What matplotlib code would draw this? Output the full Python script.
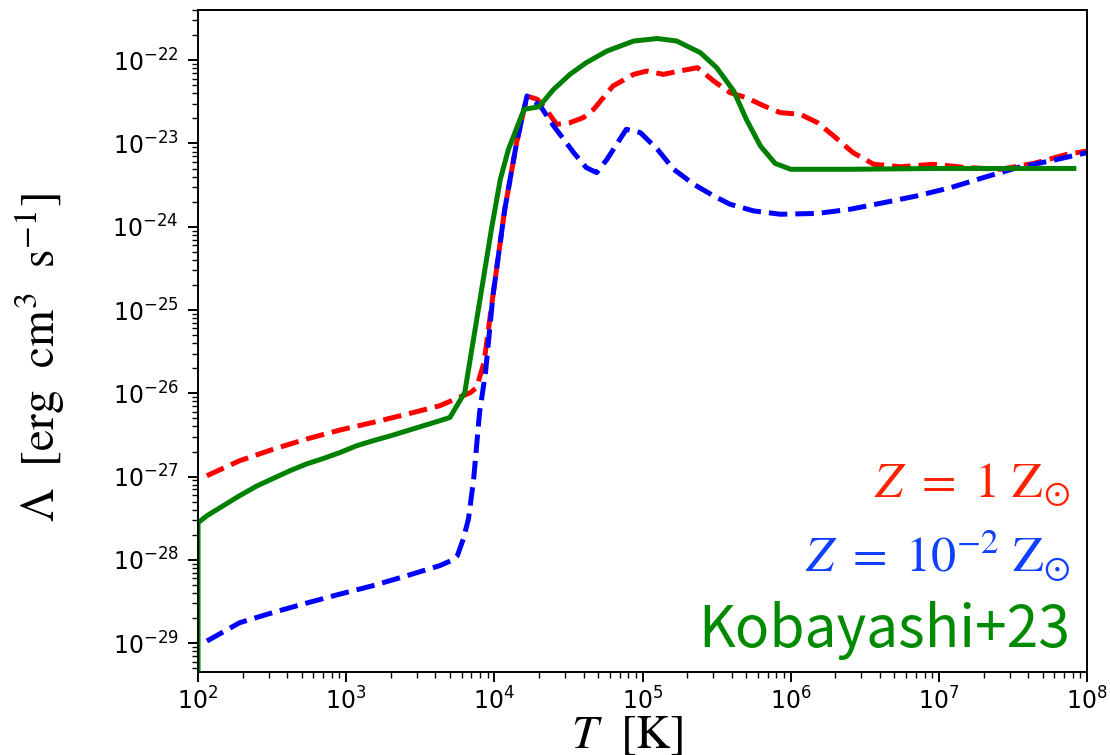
import numpy as np
import matplotlib
matplotlib.use('Agg')
import matplotlib.pyplot as plt

# values (log10 T [K], log10 Lambda [erg cm^3 s^-1])
logT_solar = [2.06, 2.28, 2.51, 2.73, 2.96, 3.18, 3.41, 3.63, 3.84, 3.88, 3.93, 3.99, 4.07,
              4.15, 4.22, 4.29, 4.36, 4.42, 4.51, 4.60, 4.67, 4.80, 4.94, 5.03, 5.14, 5.25,
              5.37, 5.48, 5.59, 5.70, 5.82, 5.93, 6.065, 6.18, 6.29, 6.42, 6.56, 6.74, 6.96,
              7.19, 7.415, 7.64, 7.865, 8.0]
logL_solar = [-26.99, -26.81, -26.67, -26.55, -26.44, -26.35, -26.25, -26.15, -25.99, -25.93,
              -25.63, -24.83, -23.79, -22.99, -22.43, -22.47, -22.62, -22.77, -22.75, -22.69,
              -22.59, -22.31, -22.17, -22.13, -22.17, -22.13, -22.09, -22.25, -22.39, -22.45,
              -22.55, -22.63, -22.65, -22.75, -22.91, -23.11, -23.25, -23.28, -23.25, -23.29,
              -23.31, -23.24, -23.13, -23.09]

logT_low = [2.06, 2.28, 2.51, 2.73, 2.96, 3.18, 3.41, 3.63, 3.72, 3.75, 3.79, 3.825, 3.86,
            3.90, 3.94, 3.99, 4.07, 4.15, 4.22, 4.31, 4.40, 4.535, 4.62, 4.69, 4.76, 4.89,
            4.985, 5.10, 5.21, 5.345, 5.48, 5.59, 5.75, 5.93, 6.18, 6.40, 6.63, 6.85, 7.08,
            7.30, 7.53, 7.75, 8.0]
logL_low = [-28.975, -28.755, -28.63, -28.52, -28.41, -28.31, -28.19, -28.07, -28.0, -27.95,
            -27.75, -27.51, -27.03, -26.23, -25.75, -24.83, -23.79, -22.99, -22.43, -22.55,
            -22.79, -23.11, -23.29, -23.35, -23.19, -22.83, -22.87, -23.07, -23.31, -23.49,
            -23.63, -23.73, -23.81, -23.85, -23.84, -23.79, -23.71, -23.63, -23.53, -23.41,
            -23.29, -23.21, -23.11]

logT_kob = [2.0, 2.0, 2.06, 2.17, 2.28, 2.40, 2.51, 2.62, 2.73, 2.85, 2.96, 3.07, 3.18, 3.30,
            3.41, 3.52, 3.63, 3.70, 3.80, 3.905, 3.98, 4.04, 4.095, 4.20, 4.30, 4.40, 4.51,
            4.62, 4.76, 4.94, 5.10, 5.23, 5.39, 5.50, 5.615, 5.70, 5.795, 5.895, 6.0, 6.40,
            7.0, 7.91]
logL_kob = [-31.0, -27.555, -27.47, -27.35, -27.23, -27.11, -27.02, -26.93, -26.85, -26.78,
            -26.71, -26.63, -26.57, -26.51, -26.45, -26.39, -26.33, -26.29, -25.99, -24.85,
            -24.03, -23.43, -23.07, -22.59, -22.56, -22.35, -22.17, -22.03, -21.89, -21.77,
            -21.74, -21.77, -21.91, -22.09, -22.37, -22.71, -23.03, -23.24, -23.31, -23.31,
            -23.30, -23.30]

fig = plt.figure(figsize=(11.1, 7.55), dpi=100)
ax = fig.add_axes([0.1784, 0.1099, 0.801, 0.8768])

ax.plot(10**np.array(logT_solar), 10**np.array(logL_solar), color='red', ls='--', lw=3.6)
ax.plot(10**np.array(logT_low), 10**np.array(logL_low), color='blue', ls='--', lw=3.6)
ax.plot(10**np.array(logT_kob), 10**np.array(logL_kob), color='green', ls='-', lw=3.6)

ax.set_xscale('log')
ax.set_yscale('log')
ax.set_xlim(1e2, 1e8)
ax.set_ylim(4.5e-30, 4e-22)

ax.tick_params(which='major', length=7, width=1.4, labelsize=17)
ax.tick_params(which='minor', length=4, width=1.0)
ax.tick_params(axis='y', which='major', pad=7)
ax.tick_params(axis='x', which='major', pad=4)
for sp in ax.spines.values():
    sp.set_linewidth(1.4)

ax.set_xlabel(r'$T\ \ [{\rm K}]$', fontsize=34, math_fontfamily='stix')
ax.xaxis.set_label_coords(0.483, -0.062)
ax.set_ylabel(r'$\Lambda\ \ [{\rm erg\ \ cm^3\ \ s^{-1}}]$', fontsize=34, math_fontfamily='stix')
ax.yaxis.set_label_coords(-0.147, 0.475)

ax.text(0.981, 0.264, r'$Z\ =\ 1\ {\rm Z}_{\odot}$', transform=ax.transAxes, ha='right',
        va='baseline', fontsize=36, color='#ff2200', math_fontfamily='stix')
ax.text(0.981, 0.151, r'$Z\ =\ 10^{-2}\ {\rm Z}_{\odot}$', transform=ax.transAxes, ha='right',
        va='baseline', fontsize=36, color='#1040ff', math_fontfamily='stix')
ax.text(0.981, 0.038, 'Kobayashi+23', transform=ax.transAxes, ha='right',
        va='baseline', fontsize=41, color='#008a00', family='Noto Sans CJK JP')

fig.savefig('out.png', dpi=100)
